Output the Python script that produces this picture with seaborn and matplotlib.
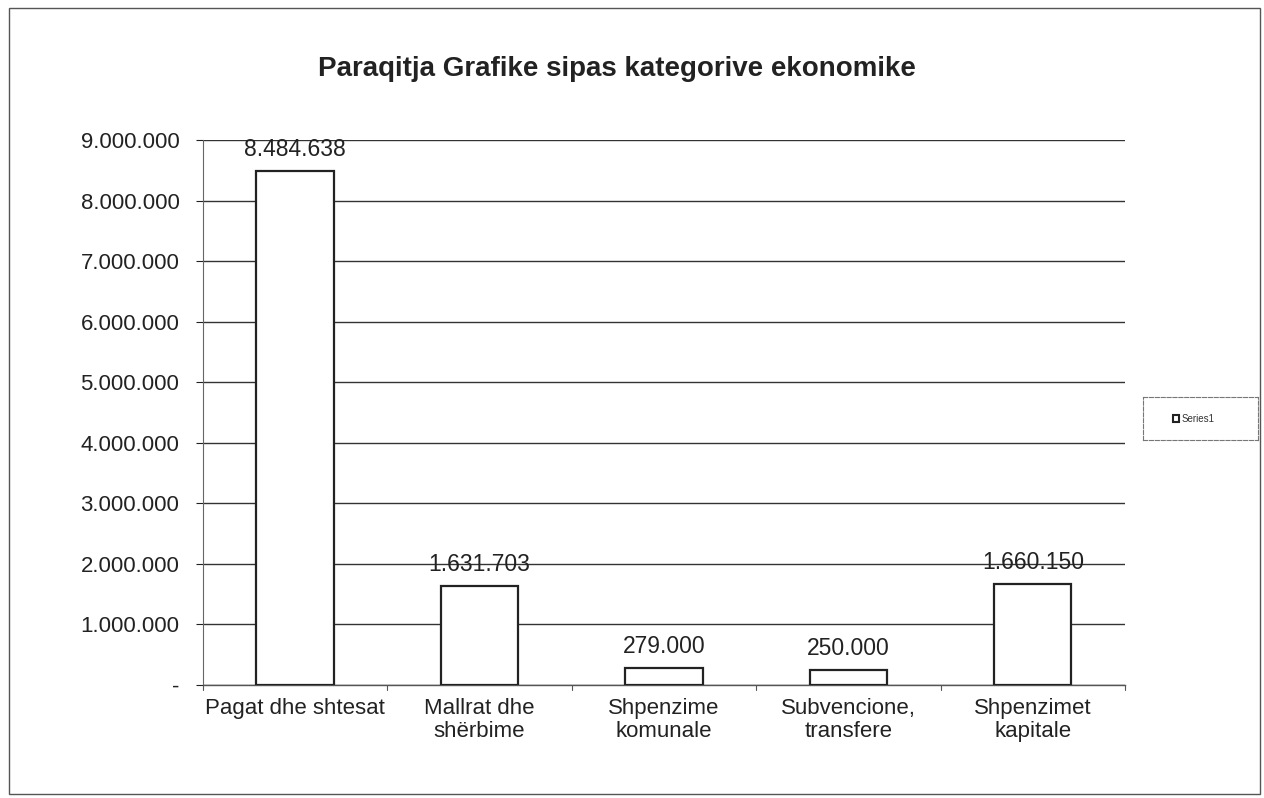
import matplotlib
matplotlib.use("Agg")
import matplotlib.pyplot as plt
import seaborn as sns
import pandas as pd
from matplotlib.ticker import FuncFormatter, FixedLocator
from matplotlib.patches import Rectangle

# data
categories = ["Pagat dhe shtesat", "Mallrat dhe\nshërbime", "Shpenzime\nkomunale",
              "Subvencione,\ntransfere", "Shpenzimet\nkapitale"]
values = [8484638, 1631703, 279000, 250000, 1660150]
value_labels = ["8.484.638", "1.631.703", "279.000", "250.000", "1.660.150"]
yticks = [0, 1000000, 2000000, 3000000, 4000000, 5000000, 6000000, 7000000, 8000000, 9000000]

df = pd.DataFrame({"kategoria": categories, "vlera": values})

sns.set_theme(style="white")
plt.rcParams["font.family"] = ["Liberation Sans", "DejaVu Sans"]

fig = plt.figure(figsize=(12.64, 7.98), dpi=100)
ax = fig.add_axes([0.1606, 0.1416, 0.7294, 0.683])

sns.barplot(data=df, x="kategoria", y="vlera", color="white", edgecolor="#222222",
            linewidth=1.6, width=0.42, saturation=1, ax=ax, zorder=3)

ax.set_ylim(0, 9000000)
ax.set_xlim(-0.5, 4.5)
ax.yaxis.set_major_locator(FixedLocator(yticks))
fmt = lambda v, p: "-" if v == 0 else f"{int(v):,}".replace(",", ".")
ax.yaxis.set_major_formatter(FuncFormatter(fmt))
ax.grid(axis="y", color="#333333", linewidth=1.0, zorder=0)
ax.set_axisbelow(True)

for i, (v, lab) in enumerate(zip(values, value_labels)):
    ax.text(i, v + 170000, lab, ha="center", va="bottom", fontsize=16.5, color="#222222", zorder=4)

ax.set_xlabel("")
ax.set_ylabel("")
ax.tick_params(axis="y", labelsize=16, colors="#222222", length=5, width=0.8, left=True, pad=12)
ax.tick_params(axis="x", labelsize=16, colors="#222222", length=0, pad=9)
ax.set_xticks(range(len(categories)))
ax.set_xticklabels(categories, linespacing=1.15)
# tick marks between categories
for b in [-0.5, 0.5, 1.5, 2.5, 3.5, 4.5]:
    ax.plot([b, b], [0, -90000], color="#555555", linewidth=0.8, clip_on=False)

for side in ["top", "right"]:
    ax.spines[side].set_visible(False)
ax.spines["left"].set_color("#666666")
ax.spines["left"].set_linewidth(0.8)
ax.spines["bottom"].set_color("#555555")
ax.spines["bottom"].set_linewidth(1.0)

fig.text(0.488, 0.913, "Paraqitja Grafike sipas kategorive ekonomike", ha="center", va="center",
         fontsize=20, fontweight="bold", color="#222222")

# legend box
leg_ax = fig.add_axes([0.904, 0.448, 0.091, 0.054])
leg_ax.set_xticks([])
leg_ax.set_yticks([])
for s in leg_ax.spines.values():
    s.set_color("#777777")
    s.set_linewidth(0.8)
    s.set_linestyle("--")
leg_ax.add_patch(Rectangle((0.26, 0.42), 0.06, 0.18, facecolor="white", edgecolor="#222222", linewidth=1.5))
leg_ax.text(0.34, 0.5, "Series1", fontsize=7, va="center", ha="left", color="#333333")

# outer frame
fig.add_artist(Rectangle((0.007, 0.005), 0.99, 0.985, transform=fig.transFigure, fill=False,
                         edgecolor="#555555", linewidth=1.0))

fig.savefig("out.png", dpi=100)
